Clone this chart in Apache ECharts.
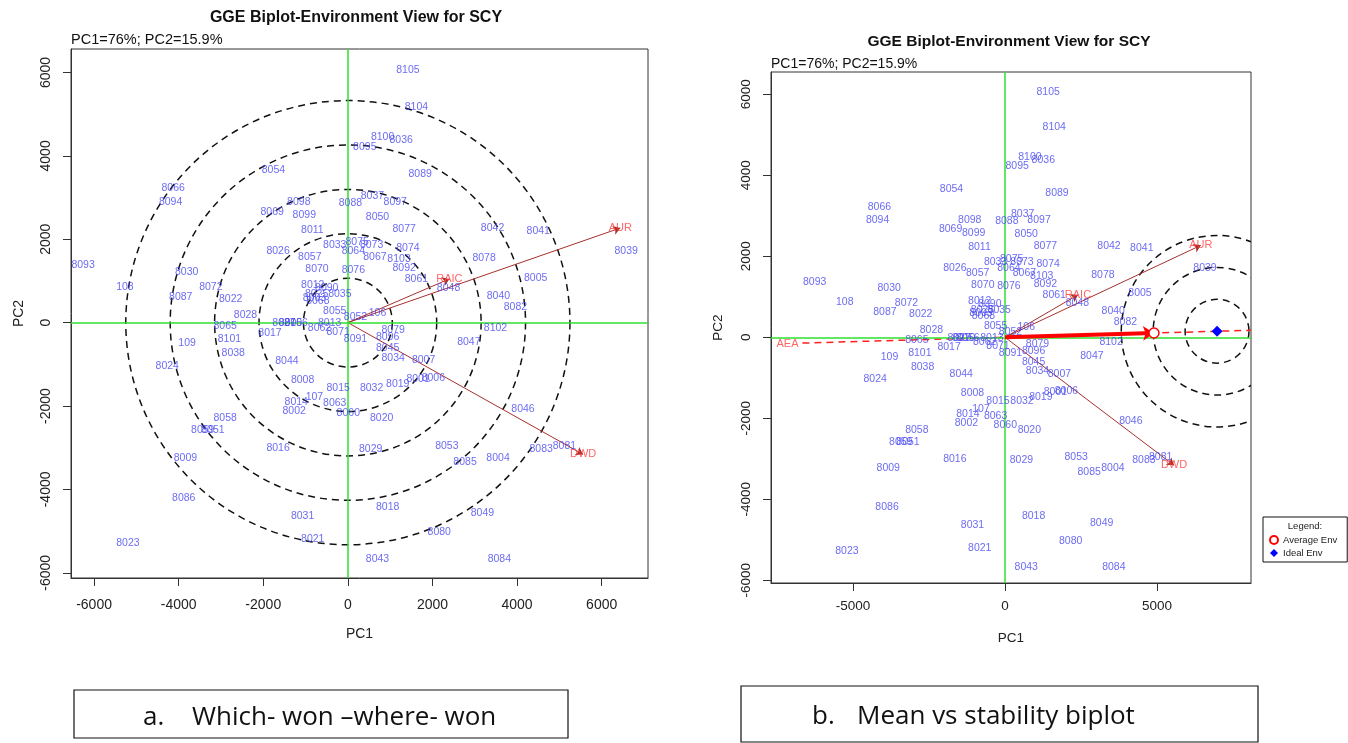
<!DOCTYPE html>
<html>
<head>
<meta charset="utf-8">
<title>GGE Biplot - Environment View for SCY</title>
<script src="https://cdn.jsdelivr.net/npm/echarts@6/dist/echarts.min.js"></script>
<style>
  html, body { margin: 0; padding: 0; background: #fff; }
  #chart { width: 1348px; height: 743px; }
</style>
</head>
<body>
<div id="chart"></div>
<script>
// genotype scores (PC1, PC2)
var genoNames = ['8054', '8066', '8094', '8098', '8069', '8099', '8011', '8026', '8057', '8070',
  '8093', '108', '8030', '8087', '8072', '8022', '8028', '8012', '8090', '8035',
  '8025', '8068', '8003', '8055', '8033', '8088', '8105', '8104', '8100', '8036',
  '8095', '8089', '8037', '8097', '8050', '8077', '8042', '8041', '8074', '8073',
  '8075', '8064', '8067', '8103', '8092', '8076', '8078', '8061', '8048', '8005',
  '8039', '8040', '8082', '106', '8052', '8102', '8079', '8096', '8047', '8091',
  '8045', '8034', '8007', '8001', '8006', '8019', '8032', '8015', '8046', '8020',
  '8060', '8063', '8029', '8053', '8085', '8004', '8083', '8081', '8018', '8049',
  '8080', '8043', '8084', '8065', '8101', '8038', '109', '8024', '8017', '8044',
  '8008', '107', '8014', '8002', '8058', '8059', '8051', '8016', '8009', '8086',
  '8031', '8021', '8023', '8027', '8010', '8056', '8062', '8013', '8071'];
var genoX = [-1760, -4130, -4190, -1160, -1790, -1030, -840, -1650, -900, -730,
  -6260, -5270, -3810, -3950, -3240, -2770, -2420, -830, -500, -190,
  -740, -710, -790, -310, -310, 60, 1420, 1620, 820, 1260,
  400, 1710, 580, 1120, 700, 1330, 3420, 4500, 1420, 560,
  220, 130, 640, 1210, 1330, 130, 3220, 1620, 2380, 4440,
  6580, 3560, 3960, 700, 180, 3490, 1070, 940, 2860, 180,
  940, 1070, 1790, 1660, 2020, 1180, 560, -230, 4140, 800,
  10, -310, 540, 2340, 2770, 3550, 4570, 5120, 940, 3180,
  2160, 700, 3580, -2900, -2800, -2710, -3800, -4270, -1840, -1440,
  -1070, -790, -1220, -1270, -2900, -3430, -3190, -1650, -3840, -3880,
  -1070, -830, -5200, -1510, -1360, -1220, -670, -430, -230];
var genoY = [3660, 3220, 2900, 2900, 2660, 2580, 2220, 1720, 1580, 1280,
  1370, 860, 1220, 610, 850, 570, 170, 900, 820, 680,
  680, 520, 590, 280, 1860, 2860, 6060, 5180, 4440, 4380,
  4220, 3560, 3040, 2890, 2540, 2240, 2260, 2200, 1800, 1860,
  1940, 1720, 1580, 1520, 1320, 1260, 1540, 1040, 840, 1080,
  1720, 640, 380, 240, 130, -120, -180, -340, -460, -400,
  -620, -840, -900, -1360, -1340, -1480, -1570, -1580, -2080, -2280,
  -2160, -1940, -3040, -2960, -3340, -3240, -3040, -2960, -4420, -4580,
  -5020, -5680, -5680, -80, -400, -730, -490, -1040, -250, -920,
  -1380, -1780, -1900, -2120, -2290, -2580, -2580, -3000, -3240, -4200,
  -4640, -5200, -5280, -10, -10, -10, -120, -10, -220];

// environment vectors
var envNames = ['AUR', 'RAIC', 'DWD'];
var envX = [6440, 2400, 5560];
var envY = [2270, 1050, -3160];

var avgEnv = [4900, 105];
var idealEnv = [6975, 150];
var aeaLabelT = -1.46;   // AEA label along the average environment axis
var aeaStartT = -1.36;

// concentric rings (radius in PC1 units)
var ringsA = [1050, 2100, 3150, 4200, 5250];
var ringsB = [1050, 2100, 3150];

var ticksA = [-6000, -4000, -2000, 0, 2000, 4000, 6000];
var ticksBx = [-5000, 0, 5000];
var ticksBy = [-6000, -4000, -2000, 0, 2000, 4000, 6000];

var rangeAx = [-6545, 7095], rangeAy = [-6125, 6564];
var rangeBx = [-7697, 8092], rangeBy = [-6066, 6550];

var FONT = 'Liberation Sans, Arial, sans-serif';
var CAPTION_FONT = '26px "Open Sans", Lato, sans-serif';
var GENO_COLOR = '#4646f0';
var ENV_COLOR = '#ff3c3c';
var ARROW_COLOR = '#a8302c';

var chart = echarts.init(document.getElementById('chart'));

function plain(v) { return String(v); }

function axisX(idx, range, ticks, size, labelGap, nameGap) {
  return {
    type: 'value', gridIndex: idx, min: range[0], max: range[1],
    name: 'PC1', nameLocation: 'middle', nameGap: nameGap,
    nameTextStyle: { fontFamily: FONT, fontSize: size, color: '#222' },
    axisLine: { show: true, onZero: false, lineStyle: { color: '#333' } },
    axisTick: { show: true, length: 8, customValues: ticks, lineStyle: { color: '#333' } },
    axisLabel: { customValues: ticks, formatter: plain, margin: labelGap, fontFamily: FONT, fontSize: size, color: '#222' },
    splitLine: { show: false }
  };
}

function axisY(idx, range, ticks, size, nameGap) {
  return {
    type: 'value', gridIndex: idx, min: range[0], max: range[1],
    name: 'PC2', nameLocation: 'middle', nameGap: nameGap,
    nameTextStyle: { fontFamily: FONT, fontSize: size, color: '#222' },
    axisLine: { show: true, onZero: false, lineStyle: { color: '#333' } },
    axisTick: { show: true, length: 8, customValues: ticks, lineStyle: { color: '#333' } },
    axisLabel: { customValues: ticks, formatter: plain, rotate: 90, margin: 18, fontFamily: FONT, fontSize: size, color: '#222' },
    splitLine: { show: false }
  };
}

function ringSeries(idx, center, radii) {
  return {
    type: 'custom', xAxisIndex: idx, yAxisIndex: idx, silent: true, z: 2,
    data: radii.map(function (r) { return [center[0], center[1], r]; }),
    renderItem: function (params, api) {
      var c = api.coord([api.value(0), api.value(1)]);
      var r = api.size([api.value(2), 0])[0];
      var cs = params.coordSys;
      return {
        type: 'circle',
        shape: { cx: c[0], cy: c[1], r: r },
        style: { fill: 'none', stroke: '#111', lineWidth: 1.5, lineDash: [7, 5] },
        clipPath: { type: 'rect', shape: { x: cs.x, y: cs.y, width: cs.width, height: cs.height } }
      };
    }
  };
}

function genoSeries(idx, size) {
  return {
    type: 'scatter', xAxisIndex: idx, yAxisIndex: idx, silent: true, z: 5,
    symbolSize: 0,
    data: genoNames.map(function (n, i) { return [genoX[i], genoY[i], n]; }),
    label: {
      show: true, position: 'inside',
      formatter: function (p) { return p.value[2]; },
      fontFamily: FONT, fontSize: size, color: GENO_COLOR
    },
    labelLayout: { hideOverlap: false },
    markLine: {
      silent: true, symbol: 'none', animation: false,
      label: { show: false },
      lineStyle: { color: '#2fe02f', width: 1.5, type: 'solid' },
      data: [{ xAxis: 0 }, { yAxis: 0 }]
    }
  };
}

function envArrows(idx) {
  return {
    type: 'lines', coordinateSystem: 'cartesian2d', xAxisIndex: idx, yAxisIndex: idx,
    silent: true, z: 4, symbol: ['none', 'arrow'], symbolSize: 7,
    lineStyle: { color: ARROW_COLOR, width: 1, opacity: 1 },
    data: envNames.map(function (n, i) { return { coords: [[0, 0], [envX[i], envY[i]]] }; })
  };
}

function envLabels(idx, size) {
  return {
    type: 'scatter', xAxisIndex: idx, yAxisIndex: idx, silent: true, z: 6,
    symbolSize: 0,
    data: envNames.map(function (n, i) { return [envX[i], envY[i], n]; }),
    label: {
      show: true, position: 'inside',
      formatter: function (p) { return p.value[2]; },
      fontFamily: FONT, fontSize: size, color: ENV_COLOR
    }
  };
}

var series = [
  ringSeries(0, [0, 0], ringsA),
  genoSeries(0, 10.5),
  envArrows(0),
  envLabels(0, 11),

  ringSeries(1, idealEnv, ringsB),
  genoSeries(1, 10.5),
  envArrows(1),
  envLabels(1, 11),
  {
    type: 'lines', coordinateSystem: 'cartesian2d', xAxisIndex: 1, yAxisIndex: 1,
    silent: true, z: 4, symbol: 'none',
    lineStyle: { color: '#ff2020', width: 1.5, type: [7, 5], opacity: 1 },
    data: [{ coords: [
      [avgEnv[0] * aeaStartT, avgEnv[1] * aeaStartT],
      [rangeBx[1], avgEnv[1] * rangeBx[1] / avgEnv[0]]
    ] }]
  },
  {
    type: 'lines', coordinateSystem: 'cartesian2d', xAxisIndex: 1, yAxisIndex: 1,
    silent: true, z: 5, symbol: ['none', 'arrow'], symbolSize: 11,
    lineStyle: { color: '#ff0000', width: 4, opacity: 1 },
    data: [{ coords: [[0, 0], avgEnv] }]
  },
  {
    type: 'scatter', xAxisIndex: 1, yAxisIndex: 1, silent: true, z: 6,
    symbolSize: 0,
    data: [[avgEnv[0] * aeaLabelT, avgEnv[1] * aeaLabelT, 'AEA']],
    label: {
      show: true, position: 'inside',
      formatter: function (p) { return p.value[2]; },
      fontFamily: FONT, fontSize: 11, color: ENV_COLOR
    }
  },
  {
    name: 'Average Env', type: 'scatter', xAxisIndex: 1, yAxisIndex: 1, z: 7,
    symbol: 'circle', symbolSize: 10,
    itemStyle: { color: '#fff', borderColor: '#ff0000', borderWidth: 1.5, opacity: 1 },
    data: [avgEnv]
  },
  {
    name: 'Ideal Env', type: 'scatter', xAxisIndex: 1, yAxisIndex: 1, z: 7,
    symbol: 'diamond', symbolSize: 11,
    itemStyle: { color: '#0000ff', opacity: 1 },
    data: [idealEnv]
  }
];

chart.setOption({
  animation: false,
  backgroundColor: '#fff',
  title: [
    { text: 'GGE Biplot-Environment View for SCY', left: 356, top: 10, textAlign: 'center', padding: 0,
      textStyle: { fontFamily: FONT, fontSize: 16, fontWeight: 'bold', color: '#111' } },
    { text: 'PC1=76%; PC2=15.9%', left: 71, top: 32, padding: 0,
      textStyle: { fontFamily: FONT, fontSize: 14.5, fontWeight: 'normal', color: '#111' } },
    { text: 'GGE Biplot-Environment View for SCY', left: 1009, top: 34, textAlign: 'center', padding: 0,
      textStyle: { fontFamily: FONT, fontSize: 15.5, fontWeight: 'bold', color: '#111' } },
    { text: 'PC1=76%; PC2=15.9%', left: 771, top: 57, padding: 0,
      textStyle: { fontFamily: FONT, fontSize: 14, fontWeight: 'normal', color: '#111' } },
    { text: 'Legend:', left: 1305, top: 521, textAlign: 'center', padding: 0,
      textStyle: { fontFamily: FONT, fontSize: 9.5, fontWeight: 'normal', color: '#222' } }
  ],
  legend: {
    left: 1263, top: 517, orient: 'vertical',
    padding: [18, 10, 4, 6], itemGap: 3, itemWidth: 8, itemHeight: 8, itemTextGap: 5,
    borderColor: '#111', borderWidth: 1, backgroundColor: '#fff',
    textStyle: { fontFamily: FONT, fontSize: 9.5, color: '#222' },
    selectedMode: false,
    data: ['Average Env', 'Ideal Env']
  },
  grid: [
    { left: 71, top: 49, width: 577, height: 529, show: true, borderColor: '#333', borderWidth: 1 },
    { left: 771, top: 72, width: 480, height: 511, show: true, borderColor: '#333', borderWidth: 1 }
  ],
  xAxis: [axisX(0, rangeAx, ticksA, 14, 20, 49), axisX(1, rangeBx, ticksBx, 13.5, 16, 48)],
  yAxis: [axisY(0, rangeAy, ticksA, 14, 45), axisY(1, rangeBy, ticksBy, 13.5, 46)],
  series: series,
  graphic: [
    { type: 'rect', shape: { x: 74, y: 690, width: 494, height: 48 },
      style: { fill: '#fff', stroke: '#111', lineWidth: 1.2 } },
    { type: 'text', x: 143, y: 705, style: { text: 'a.', font: CAPTION_FONT, fill: '#111' } },
    { type: 'text', x: 192, y: 705, style: { text: 'Which- won \u2013where- won', font: CAPTION_FONT, fill: '#111' } },
    { type: 'rect', shape: { x: 741, y: 686, width: 517, height: 56 },
      style: { fill: '#fff', stroke: '#111', lineWidth: 1.2 } },
    { type: 'text', x: 812, y: 704, style: { text: 'b.', font: CAPTION_FONT, fill: '#111' } },
    { type: 'text', x: 857, y: 704, style: { text: 'Mean vs stability biplot', font: CAPTION_FONT, fill: '#111' } }
  ]
});
</script>
</body>
</html>
